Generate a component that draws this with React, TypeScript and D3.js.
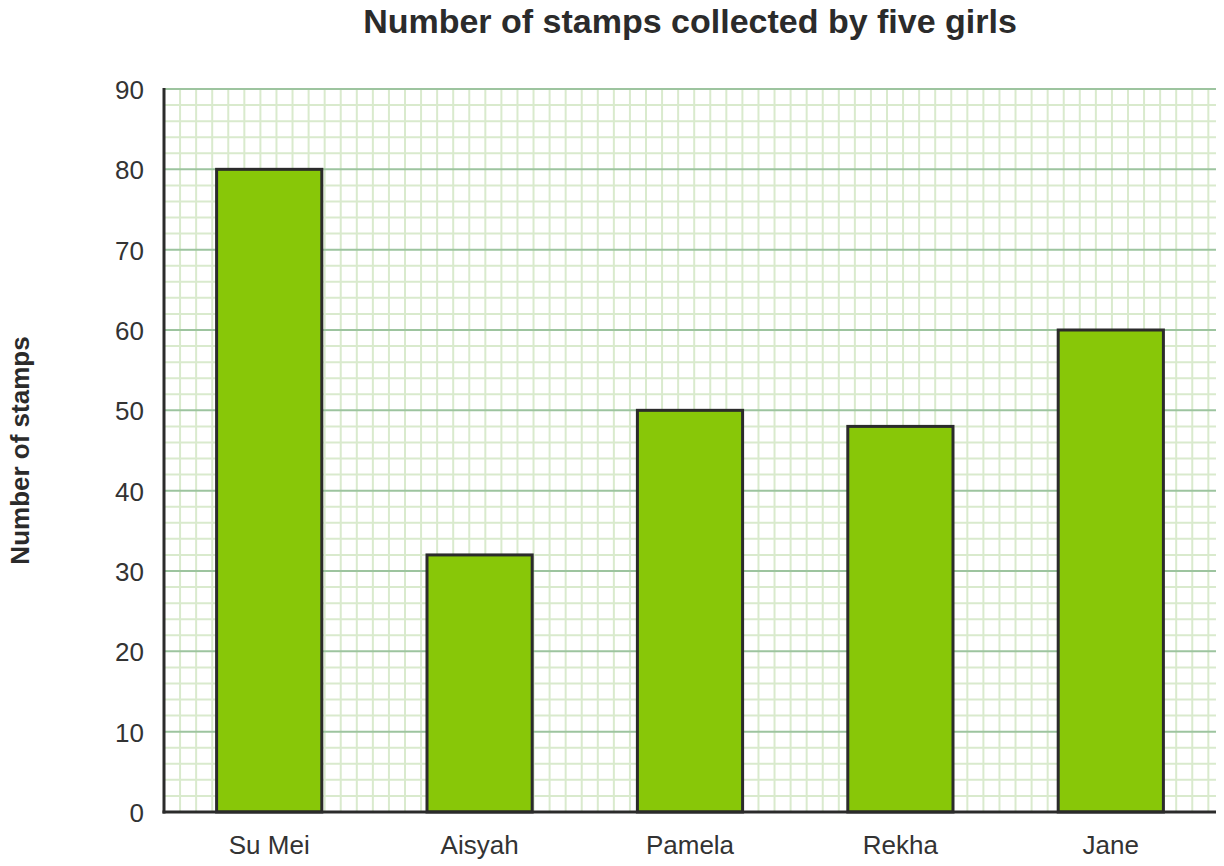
import * as d3 from 'd3';
import React from 'react';

const girls = ['Su Mei', 'Aisyah', 'Pamela', 'Rekha', 'Jane'];
const stamps = [80, 32, 50, 48, 60];
const yTicks = [0, 10, 20, 30, 40, 50, 60, 70, 80, 90];

const width = 1224;
const height = 866;
const left = 164;
const right = 1216;
const top = 89;
const bottom = 812;
const font = '"Liberation Sans", Arial, sans-serif';

export default function App() {
  const x = d3.scaleBand<string>().domain(girls).range([left, right]).paddingInner(0.5).paddingOuter(0.25);
  const y = d3.scaleLinear().domain([0, 90]).range([bottom, top]);

  // minor grid every 2 stamps, same pixel size both ways
  const step = y(0) - y(2);
  const minorY = d3.range(0, 91, 2);
  const minorX = d3.range(left + step, right + 1, step);

  return (
    <svg width={width} height={height} style={{ display: 'block', position: 'absolute', left: 0, top: 0, background: '#fff' }}>
      <g>
        {minorX.map((v, i) => (
          <line key={'vx' + i} x1={v} x2={v} y1={top} y2={bottom} stroke="#d9eacd" strokeWidth={2} />
        ))}
        {minorY.filter(v => v % 10 !== 0).map(v => (
          <line key={'hy' + v} x1={left} x2={right} y1={y(v)} y2={y(v)} stroke="#d9eacd" strokeWidth={2} />
        ))}
        {yTicks.map(v => (
          <line key={'my' + v} x1={left} x2={right} y1={y(v)} y2={y(v)} stroke="#9dc49f" strokeWidth={2} />
        ))}
      </g>
      <g>
        {girls.map((g, i) => (
          <rect
            key={g}
            x={x(g)}
            y={y(stamps[i])}
            width={x.bandwidth()}
            height={y(0) - y(stamps[i])}
            fill="#88c708"
            stroke="#2b2b2b"
            strokeWidth={3}
          />
        ))}
      </g>
      <line x1={left} x2={left} y1={top - 1} y2={bottom + 1.5} stroke="#2b2b2b" strokeWidth={3} />
      <line x1={left - 1.5} x2={right} y1={bottom} y2={bottom} stroke="#2b2b2b" strokeWidth={3} />
      <g fontFamily={font} fill="#333" fontSize={26}>
        {yTicks.map(v => (
          <text key={'t' + v} x={144} y={y(v) + 1} textAnchor="end" dominantBaseline="central">
            {v}
          </text>
        ))}
      </g>
      <g fontFamily={font} fill="#333" fontSize={26}>
        {girls.map(g => (
          <text key={'l' + g} x={(x(g) as number) + x.bandwidth() / 2} y={854} textAnchor="middle">
            {g}
          </text>
        ))}
      </g>
      <text x={690} y={33} textAnchor="middle" fontFamily={font} fontWeight="bold" fontSize={34} fill="#2b2b2b">
        Number of stamps collected by five girls
      </text>
      <text
        transform={`translate(29,${(top + bottom) / 2}) rotate(-90)`}
        textAnchor="middle"
        fontFamily={font}
        fontWeight="bold"
        fontSize={26}
        fill="#2b2b2b"
      >
        Number of stamps
      </text>
    </svg>
  );
}
